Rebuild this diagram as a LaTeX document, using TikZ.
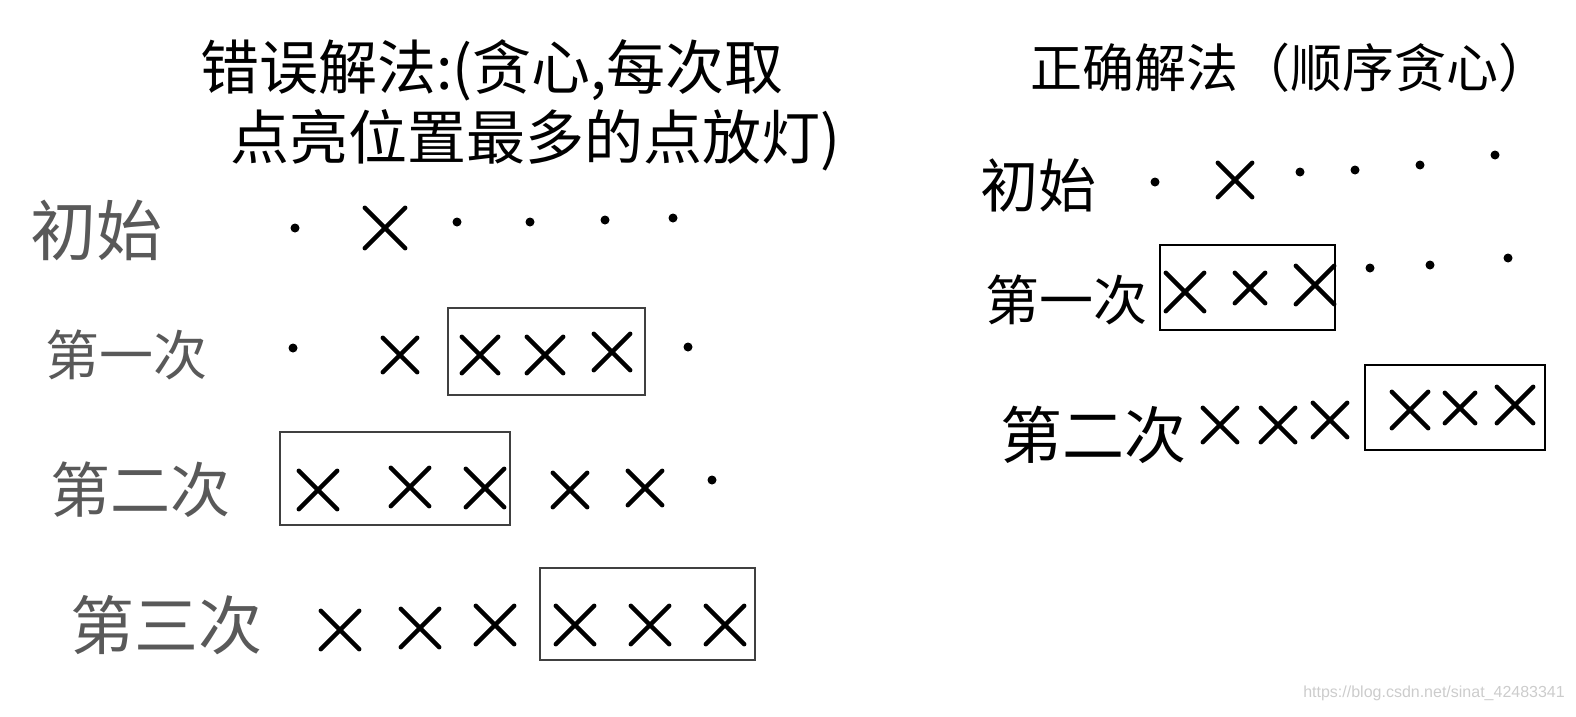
\documentclass[tikz,border=0pt]{standalone}
\usepackage{fontspec}
\newfontfamily\cjk{Noto Sans CJK SC}
\setsansfont{Liberation Sans}
\begin{document}
\begin{tikzpicture}[x=1pt,y=-1pt,
  xline/.style={line width=4.5pt,line cap=round,draw=black},
  xm/.style={minimum size=#1,inner sep=0pt,
     append after command={
       (\tikzlastnode.north west) edge[xline] (\tikzlastnode.south east)
       (\tikzlastnode.north east) edge[xline] (\tikzlastnode.south west)}},
  xm/.default=36,
  dt/.style={circle,fill=black,minimum size=9pt,inner sep=0pt},
  box/.style={draw=black!75,line width=2pt,inner sep=0pt},
  lab/.style={font=\cjk\fontsize{54}{56}\selectfont,inner sep=0pt,anchor=west},
  glab/.style={lab,text=black!65},
  ttl/.style={font=\cjk\fontsize{59}{66}\selectfont,inner sep=0pt,align=left}]
\useasboundingbox (0,0) rectangle (1576,716);
% titles
\node[ttl,anchor=west] (t1) at (200,70) {错误解法:(贪心,每次取};
\node[ttl,anchor=west] (t2) at (230,140) {点亮位置最多的点放灯)};
\node[ttl,anchor=west,font=\cjk\fontsize{52}{56}\selectfont] (t3) at (1030,68) {正确解法（顺序贪心）};
% left rows
\node[glab,font=\cjk\fontsize{66}{70}\selectfont] (l0) at (30,230) {初始};
\node[dt] (a1) at (295,228) {};
\node[xm=40] (a2) at (385,228) {};
\node[dt] (a3) at (457,222) {};
\node[dt] (a4) at (530,222) {};
\node[dt] (a5) at (605,220) {};
\node[dt] (a6) at (673,218) {};

\node[glab] (l1) at (45,355) {第一次};
\node[dt] (b1) at (293,348) {};
\node[xm=34] (b2) at (400,355) {};
\node[xm=36] (b3) at (480,355) {};
\node[xm=36] (b4) at (545,355) {};
\node[xm=36] (b5) at (612,352) {};
\node[dt] (b6) at (688,347) {};
\node[box,minimum width=197,minimum height=87] (bb) at (546.5,351.5) {};

\node[glab,font=\cjk\fontsize{60}{64}\selectfont] (l2) at (50,490) {第二次};
\node[xm=38] (c1) at (318,490) {};
\node[xm=38] (c2) at (410,487) {};
\node[xm=38] (c3) at (485,488) {};
\node[xm=34] (c4) at (570,490) {};
\node[xm=34] (c5) at (645,488) {};
\node[dt] (c6) at (712,480) {};
\node[box,minimum width=230,minimum height=93] (cb) at (395,478.5) {};

\node[glab,font=\cjk\fontsize{64}{68}\selectfont] (l3) at (70,625) {第三次};
\node[xm=38] (d1) at (340,630) {};
\node[xm=38] (d2) at (420,628) {};
\node[xm=38] (d3) at (495,625) {};
\node[xm=38] (d4) at (575,625) {};
\node[xm=38] (d5) at (650,625) {};
\node[xm=38] (d6) at (725,625) {};
\node[box,minimum width=215,minimum height=92] (db) at (647.5,614) {};

% right rows
\node[lab,font=\cjk\fontsize{58}{62}\selectfont] (r0) at (980,185) {初始};
\node[dt] (e1) at (1155,182) {};
\node[xm=34] (e2) at (1235,180) {};
\node[dt] (e3) at (1300,172) {};
\node[dt] (e4) at (1355,170) {};
\node[dt] (e5) at (1420,165) {};
\node[dt] (e6) at (1495,155) {};

\node[lab] (r1) at (985,300) {第一次};
\node[xm=38] (f1) at (1185,292) {};
\node[xm=30] (f2) at (1250,288) {};
\node[xm=38] (f3) at (1315,285) {};
\node[dt] (f4) at (1370,268) {};
\node[dt] (f5) at (1430,265) {};
\node[dt] (f6) at (1508,258) {};
\node[box,draw=black,minimum width=175,minimum height=85] (fb) at (1247.5,287.5) {};

\node[lab,font=\cjk\fontsize{62}{66}\selectfont] (r2) at (1000,435) {第二次};
\node[xm=34] (g1) at (1220,425) {};
\node[xm=34] (g2) at (1278,425) {};
\node[xm=34] (g3) at (1330,420) {};
\node[xm=36] (g4) at (1410,410) {};
\node[xm=30] (g5) at (1460,408) {};
\node[xm=36] (g6) at (1515,405) {};
\node[box,draw=black,minimum width=180,minimum height=85] (gb) at (1455,407.5) {};

% watermark
\node[font=\sffamily\fontsize{16}{18}\selectfont,text=black!20,anchor=east,inner sep=0pt] (wm) at (1565,693) {https://blog.csdn.net/sinat\_42483341};
\end{tikzpicture}
\end{document}
